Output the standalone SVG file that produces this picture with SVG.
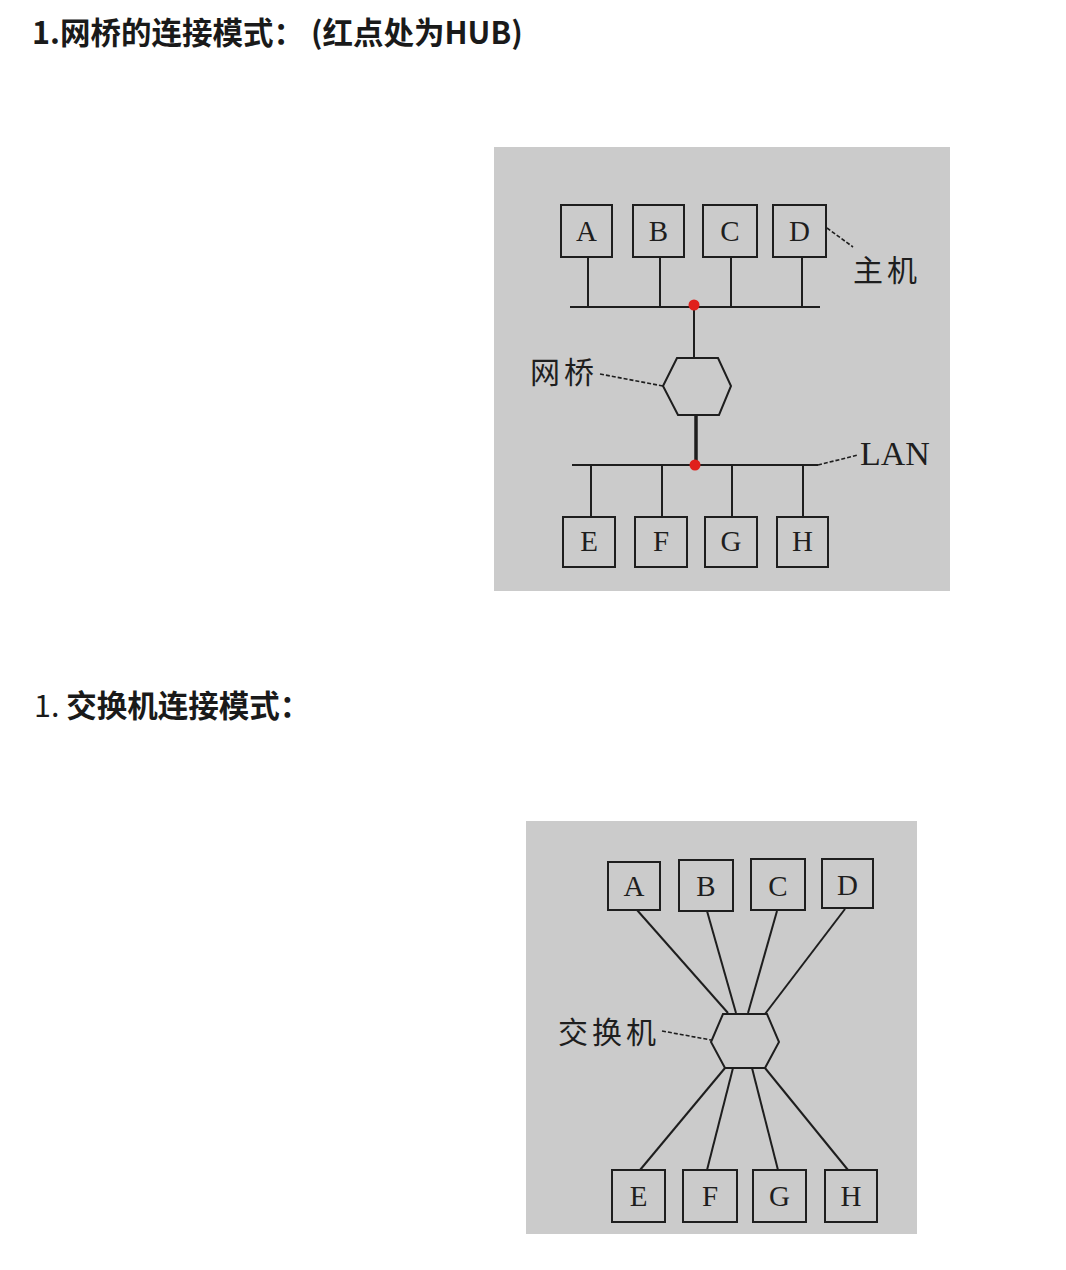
<svg xmlns="http://www.w3.org/2000/svg" width="1066" height="1270" viewBox="0 0 1066 1270">
<style>
.title{font-family:"Noto Sans CJK SC","Noto Sans",sans-serif;font-size:30.5px;font-weight:bold;fill:#1a1a1a}
.num{font-weight:normal}
.panel{fill:#cbcbcb}
.box{fill:#cbcbcb;stroke:#1e1e1e;stroke-width:2}
.hex{fill:#cbcbcb;stroke:#1e1e1e;stroke-width:2}
.letter{font-family:"Liberation Serif","Times New Roman",serif;font-size:29px;fill:#1e1e1e;text-anchor:middle}
.lbl{font-family:"Noto Sans CJK SC","Noto Sans",sans-serif;font-size:30px;fill:#1e1e1e}
.lan{font-family:"Liberation Serif","Times New Roman",serif;font-size:34px;fill:#1e1e1e}
.wire{stroke:#1e1e1e;stroke-width:2;fill:none}
.thick{stroke:#1e1e1e;stroke-width:3.5;fill:none}
.lead{stroke:#1e1e1e;stroke-width:1.6;fill:none;stroke-dasharray:4 2}
.hub{fill:#e0201c}
</style>
<rect width="1066" height="1270" fill="#ffffff"/>
<text class="title" x="32" y="44">1.网桥的连接模式：<tspan x="311">(红点处为HUB)</tspan></text>
<text class="title" x="34" y="717"><tspan class="num">1. </tspan>交换机连接模式：</text>

<!-- top diagram -->
<rect class="panel" x="494" y="147" width="456" height="444"/>
<g id="bridge-connectors">
  <line class="wire" x1="570" y1="307" x2="820" y2="307"/>
  <line class="wire" x1="588" y1="257" x2="588" y2="307"/>
  <line class="wire" x1="660" y1="257" x2="660" y2="307"/>
  <line class="wire" x1="731" y1="257" x2="731" y2="307"/>
  <line class="wire" x1="802" y1="257" x2="802" y2="307"/>
  <line class="wire" x1="694" y1="307" x2="694" y2="358"/>
  <line class="thick" x1="696" y1="415" x2="696" y2="465"/>
  <line class="wire" x1="572" y1="465" x2="818" y2="465"/>
  <line class="wire" x1="591" y1="465" x2="591" y2="517"/>
  <line class="wire" x1="662" y1="465" x2="662" y2="517"/>
  <line class="wire" x1="732" y1="465" x2="732" y2="517"/>
  <line class="wire" x1="803" y1="465" x2="803" y2="517"/>
  <line class="lead" x1="827" y1="228" x2="853" y2="247"/>
  <line class="lead" x1="600" y1="374" x2="663" y2="386"/>
  <line class="lead" x1="818" y1="465" x2="858" y2="455"/>
</g>
<g id="hub-top"><circle class="hub" cx="694" cy="305" r="5.5"/></g>
<g id="hub-bottom"><circle class="hub" cx="695" cy="465" r="5.5"/></g>
<g id="bridge">
  <polygon class="hex" points="677,358 718,358 731,386 719,415 678,415 663,386"/>
  <text class="lbl" x="530" y="383" letter-spacing="4">网桥</text>
</g>
<g id="top-A"><rect class="box" x="561" y="205" width="51" height="52"/><text class="letter" x="586.5" y="241">A</text></g>
<g id="top-B"><rect class="box" x="633" y="205" width="51" height="52"/><text class="letter" x="658.5" y="241">B</text></g>
<g id="top-C"><rect class="box" x="703" y="205" width="54" height="52"/><text class="letter" x="730" y="241">C</text></g>
<g id="top-D"><rect class="box" x="773" y="205" width="53" height="52"/><text class="letter" x="799.5" y="241">D</text></g>
<g id="label-host"><text class="lbl" x="853" y="281" letter-spacing="4">主机</text></g>
<g id="label-lan"><text class="lan" x="860" y="465">LAN</text></g>
<g id="top-E"><rect class="box" x="563" y="517" width="52" height="50"/><text class="letter" x="589" y="551">E</text></g>
<g id="top-F"><rect class="box" x="635" y="517" width="52" height="50"/><text class="letter" x="661" y="551">F</text></g>
<g id="top-G"><rect class="box" x="705" y="517" width="52" height="50"/><text class="letter" x="731" y="551">G</text></g>
<g id="top-H"><rect class="box" x="777" y="517" width="51" height="50"/><text class="letter" x="802.5" y="551">H</text></g>

<!-- bottom diagram -->
<rect class="panel" x="526" y="821" width="391" height="413"/>
<g id="switch-connectors">
  <line class="wire" x1="637" y1="910" x2="728" y2="1013"/>
  <line class="wire" x1="707" y1="911" x2="736" y2="1013"/>
  <line class="wire" x1="777" y1="911" x2="748" y2="1013"/>
  <line class="wire" x1="845" y1="909" x2="765" y2="1014"/>
  <line class="wire" x1="725" y1="1068" x2="640" y2="1170"/>
  <line class="wire" x1="733" y1="1068" x2="707" y2="1170"/>
  <line class="wire" x1="752" y1="1068" x2="778" y2="1170"/>
  <line class="wire" x1="765" y1="1068" x2="848" y2="1170"/>
  <line class="lead" x1="662" y1="1031" x2="711" y2="1040"/>
</g>
<g id="switch">
  <polygon class="hex" points="723,1014 767,1014 779,1042 765,1068 725,1068 711,1042"/>
  <text class="lbl" x="558" y="1043" letter-spacing="4">交换机</text>
</g>
<g id="sw-A"><rect class="box" x="608" y="862" width="52" height="48"/><text class="letter" x="634" y="896">A</text></g>
<g id="sw-B"><rect class="box" x="679" y="860" width="54" height="51"/><text class="letter" x="706" y="896">B</text></g>
<g id="sw-C"><rect class="box" x="751" y="859" width="54" height="51"/><text class="letter" x="778" y="896">C</text></g>
<g id="sw-D"><rect class="box" x="822" y="859" width="51" height="49"/><text class="letter" x="847.5" y="895">D</text></g>
<g id="sw-E"><rect class="box" x="612" y="1170" width="53" height="52"/><text class="letter" x="638.5" y="1206">E</text></g>
<g id="sw-F"><rect class="box" x="683" y="1170" width="54" height="52"/><text class="letter" x="710" y="1206">F</text></g>
<g id="sw-G"><rect class="box" x="753" y="1170" width="53" height="52"/><text class="letter" x="779.5" y="1206">G</text></g>
<g id="sw-H"><rect class="box" x="825" y="1170" width="52" height="52"/><text class="letter" x="851" y="1206">H</text></g>
</svg>
